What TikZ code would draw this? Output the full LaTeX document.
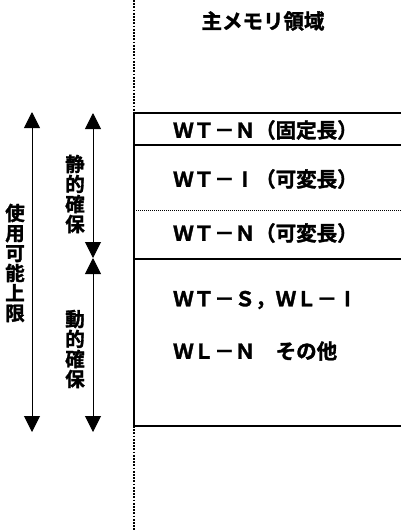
\documentclass[tikz,border=0pt]{standalone}
\usepackage{fontspec}
\newfontfamily\jp{Noto Sans CJK JP}[BoldFont={Noto Sans CJK JP Bold},BoldFeatures={FakeBold=1.6}]
\usetikzlibrary{arrows.meta}
\newcommand{\barI}{\makebox[1em]{I}}
\tikzset{
  lbl/.style={font=\jp\bfseries\fontsize{20.5}{21}\selectfont, inner sep=0pt, anchor=west},
  vlbl/.style={font=\jp\bfseries\fontsize{19.5}{20}\selectfont, inner sep=0pt, align=center},
  dim/.style={line width=1pt, {Triangle[length=16pt,width=16pt]}-{Triangle[length=16pt,width=16pt]}},
  heavy/.style={line width=2pt},
  medium/.style={line width=1.6pt},
  dotline/.style={line width=2.6pt, dash pattern=on 1.8pt off 1.4pt},
  thindot/.style={line width=1pt, densely dotted}
}
\begin{document}
\begin{tikzpicture}[x=1pt,y=-1pt]
\useasboundingbox[fill=white] (0,0) rectangle (401,531);
% coordinates
\coordinate (ltop) at (134,0);
\coordinate (bTL) at (134,113);
\coordinate (bTR) at (401,113);
\coordinate (b1L) at (134,145);
\coordinate (b1R) at (401,145);
\coordinate (b2L) at (134,210);
\coordinate (b2R) at (401,210);
\coordinate (b3L) at (134,259);
\coordinate (b3R) at (401,259);
\coordinate (bBL) at (134,426);
\coordinate (bBR) at (401,426);
\coordinate (lbot) at (134,531);
% dotted base line and box
\draw[dotline] (ltop) -- (bTL);
\draw[dotline] (bBL) -- (lbot);
\draw[heavy] (bTL) -- (bBL);
\draw[heavy] (bTL) -- (bTR);
\draw[medium] (b1L) -- (b1R);
\draw[thindot] (b2L) -- (b2R);
\draw[medium] (b3L) -- (b3R);
\draw[heavy] (bBL) -- (bBR);
% texts
\node[lbl, anchor=center] (title) at (263,21) {主メモリ領域};
\node[lbl] (t1) at (173,130) {ＷＴ－Ｎ（固定長）};
\node[lbl] (t2) at (173,179) {ＷＴ－\barI（可変長）};
\node[lbl] (t3) at (173,233) {ＷＴ－Ｎ（可変長）};
\node[lbl] (t4) at (173,300) {ＷＴ－Ｓ，ＷＬ－\barI};
\node[lbl] (t5) at (173,351) {ＷＬ－Ｎ　その他};
% dimension arrows
\coordinate (aTop) at (32,112);
\coordinate (aBot) at (32,432);
\coordinate (mTop) at (93,113);
\coordinate (mMid) at (93,258);
\coordinate (mBot) at (93,432);
\draw[dim] (aTop) -- (aBot);
\draw[dim] (mTop) -- (mMid);
\draw[dim] (mMid) -- (mBot);
\node[vlbl] (v1) at (15,263) {使\\用\\可\\能\\上\\限};
\node[vlbl] (v2) at (75,194) {静\\的\\確\\保};
\node[vlbl] (v3) at (75,349) {動\\的\\確\\保};
\end{tikzpicture}
\end{document}
